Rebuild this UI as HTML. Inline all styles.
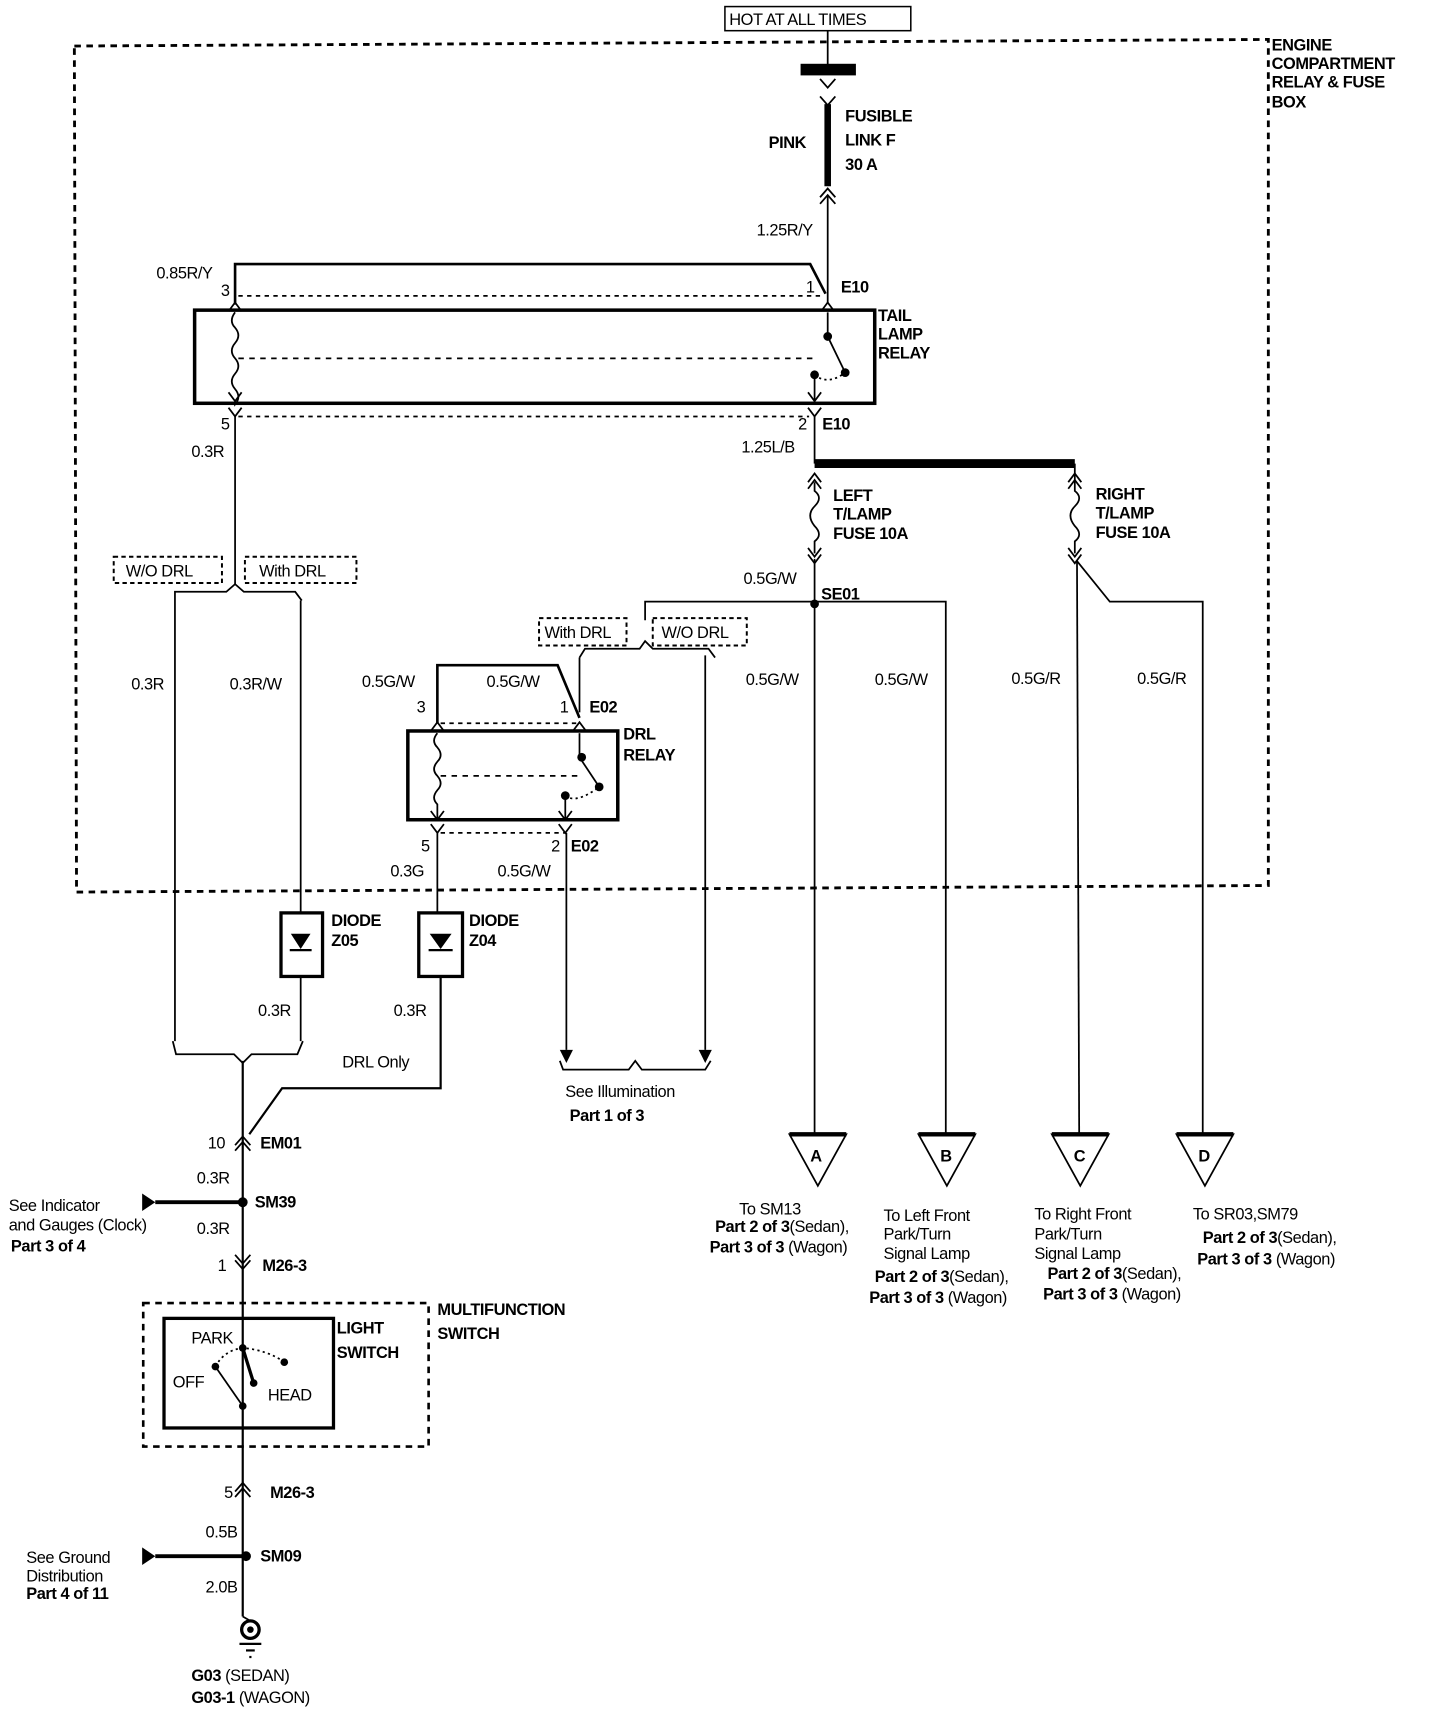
<!DOCTYPE html>
<html><head><meta charset="utf-8"><style>
html,body{margin:0;padding:0;background:#fff;}
svg{display:block}
text{font-family:"Liberation Sans",sans-serif;font-size:15px;fill:#000;letter-spacing:-0.4px}
.b{font-weight:bold}
</style></head><body>
<svg width="1440" height="1714" viewBox="0 0 1317 1564" preserveAspectRatio="none" xmlns="http://www.w3.org/2000/svg">
<g fill="none" stroke="#000" stroke-width="1.6">
<rect x="663" y="6" width="170" height="22" stroke-width="1.4"/>
<path d="M68,42 L1160,36 L1160,808 L70,814 Z" stroke-width="2.6" stroke-dasharray="6,5"/>
<line x1="757" y1="28" x2="757" y2="62"/>
<rect x="733" y="59" width="49" height="9" fill="#000"/>
<path d="M750,72 L757,80 L764,72 M750,88 L757,96 L764,88"/>
<line x1="757" y1="95" x2="757" y2="170" stroke-width="6"/>
<path d="M750,180 L757,172 L764,180 M750,186 L757,178 L764,186"/>
<line x1="757" y1="178" x2="757" y2="276"/>
<path d="M215,278 L215,241 L741,241 L755,268" stroke-width="2.4"/>
<line x1="218" y1="270" x2="750" y2="270" stroke-dasharray="4,4"/>
<path d="M209,284 L215,276 L221,284 M751,284 L757,276 L763,284"/>
<rect x="178" y="283" width="622" height="85" stroke-width="3.2"/>
<path d="M215,285 q-6,8 0,14 q6,7 0,14 q-6,7 0,14 q6,7 0,14 q-6,7 0,14 q6,7 0,14 L215,368"/>
<line x1="218" y1="327" x2="745" y2="327" stroke-dasharray="5,5"/>
<line x1="757" y1="285" x2="757" y2="307"/>
<line x1="757" y1="307" x2="773" y2="340"/>
<path d="M745,342 q12,10 28,-2" stroke-dasharray="2,3"/>
<line x1="745" y1="342" x2="745" y2="368"/>
<path d="M209,358 L215,366 L221,358 M739,358 L745,366 L751,358"/>
<path d="M209,372 L215,380 L221,372 M739,372 L745,380 L751,372"/>
<line x1="218" y1="380" x2="740" y2="380" stroke-dasharray="4,4"/>
<line x1="215" y1="380" x2="215" y2="533"/>
<line x1="745" y1="380" x2="745" y2="423"/>
<line x1="745" y1="423" x2="983" y2="423" stroke-width="8"/>
<path d="M739,440 L745,432 L751,440 M739,446 L745,438 L751,446"/>
<path d="M745,440 L745,448 q8,6 0,14 q-8,8 0,18 q8,8 0,14 L745,505"/>
<path d="M739,500 L745,508 L751,500 M739,506 L745,514 L751,506"/>
<line x1="745" y1="510" x2="745" y2="1035"/>
<path d="M977,440 L983,432 L989,440 M977,446 L983,438 L989,446"/>
<path d="M983,423 L983,448 q8,6 0,14 q-8,8 0,18 q8,8 0,14 L983,505"/>
<path d="M977,500 L983,508 L989,500 M977,506 L983,514 L989,506"/>
<line x1="985" y1="512" x2="987" y2="1035"/>
<path d="M985,512 L1015,549 L1100,549 L1100,1035"/>
<path d="M590,566 L590,549 L865,549 L865,1035"/>
<path d="M722,1035 L774,1035 L748,1082 Z"/><line x1="722" y1="1035" x2="774" y2="1035" stroke-width="4"/>
<path d="M840,1035 L892,1035 L866,1082 Z"/><line x1="840" y1="1035" x2="892" y2="1035" stroke-width="4"/>
<path d="M962,1035 L1014,1035 L988,1082 Z"/><line x1="962" y1="1035" x2="1014" y2="1035" stroke-width="4"/>
<path d="M1076,1035 L1128,1035 L1102,1082 Z"/><line x1="1076" y1="1035" x2="1128" y2="1035" stroke-width="4"/>
<rect x="104" y="508" width="99" height="24" stroke-dasharray="4,3" stroke-width="1.8"/>
<rect x="224" y="508" width="102" height="24" stroke-dasharray="4,3" stroke-width="1.8"/>
<rect x="493" y="564" width="80" height="25" stroke-dasharray="4,3" stroke-width="1.8"/>
<rect x="597" y="564" width="86" height="25" stroke-dasharray="4,3" stroke-width="1.8"/>
<path d="M160,548 L160,540 L207,540 L215,533 L223,540 L270,540 L276,548"/>
<line x1="160" y1="548" x2="160" y2="950"/>
<line x1="275" y1="548" x2="275" y2="833"/>
<path d="M530,600 L535,592 L585,592 L590,585 L597,592 L648,592 L654,600"/>
<line x1="530" y1="600" x2="530" y2="650"/>
<line x1="645" y1="598" x2="645" y2="958"/>
<path d="M400,660 L400,607 L510,607 L530,655" stroke-width="2.4"/>
<line x1="403" y1="660" x2="528" y2="660" stroke-dasharray="4,4"/>
<path d="M394,667 L400,659 L406,667 M524,667 L530,659 L536,667"/>
<rect x="373" y="667" width="192" height="81" stroke-width="3.2"/>
<path d="M400,669 q-6,7 0,13 q6,7 0,13 q-6,7 0,13 q6,7 0,13 q-6,7 0,13 L400,748"/>
<line x1="403" y1="708" x2="530" y2="708" stroke-dasharray="5,5"/>
<line x1="530" y1="669" x2="530" y2="691"/>
<line x1="530" y1="691" x2="548" y2="718"/>
<path d="M517,726 q10,8 31,-8" stroke-dasharray="2,3"/>
<line x1="517" y1="726" x2="517" y2="748"/>
<path d="M394,740 L400,748 L406,740 M511,740 L517,748 L523,740"/>
<path d="M394,752 L400,760 L406,752 M511,752 L517,760 L523,752"/>
<line x1="403" y1="760" x2="518" y2="760" stroke-dasharray="4,4"/>
<line x1="400" y1="760" x2="400" y2="833"/>
<line x1="518" y1="760" x2="518" y2="958"/>
<path d="M512,968 L515,976 L575,976 L581,968 L587,976 L645,976 L650,968"/>
<rect x="257" y="833" width="38" height="58" stroke-width="3"/>
<rect x="383" y="833" width="40" height="58" stroke-width="3"/>
<line x1="275" y1="891" x2="275" y2="950"/>
<path d="M403,891 L403,993 L258,993 L228,1035" stroke-width="2"/>
<path d="M158,950 L161,962 L214,962 L222,970 L230,962 L272,962 L277,950"/>
<line x1="222" y1="968" x2="222" y2="1475" stroke-width="2"/>
<path d="M215,1045 L222,1037 L229,1045 M215,1050 L222,1042 L229,1050"/>
<path d="M215,1145 L222,1153 L229,1145 M215,1150 L222,1158 L229,1150"/>
<path d="M215,1361 L222,1353 L229,1361 M215,1366 L222,1358 L229,1366"/>
<line x1="142" y1="1097" x2="222" y2="1097" stroke-width="3.5"/>
<line x1="142" y1="1420" x2="225" y2="1420" stroke-width="3.5"/>
<rect x="131" y="1189" width="261" height="131" stroke-dasharray="6,5" stroke-width="2.4"/>
<rect x="150" y="1203" width="155" height="100" stroke-width="3"/>
<line x1="222" y1="1230" x2="232" y2="1262" stroke-width="3"/>
<line x1="197" y1="1247" x2="222" y2="1283" stroke-width="1.6"/>
<path d="M197,1247 Q205,1232 222,1230 Q245,1232 260,1243" stroke-dasharray="2,3"/>
<circle cx="229" cy="1487" r="8" stroke-width="3"/>
<line x1="222" y1="1475" x2="229" y2="1479"/>
<line x1="219" y1="1500" x2="239" y2="1500" stroke-width="2"/>
<line x1="225" y1="1506" x2="233" y2="1506" stroke-width="2"/>
<line x1="228" y1="1512" x2="230" y2="1512" stroke-width="2"/>
</g>
<g fill="#000">
<path d="M266,852 L284,852 L275,866 Z"/><line x1="265" y1="867" x2="285" y2="867" stroke="#000" stroke-width="2"/>
<path d="M393,852 L413,852 L403,866 Z"/><line x1="392" y1="867" x2="414" y2="867" stroke="#000" stroke-width="2"/>
<path d="M512,958 L524,958 L518,970 Z"/><path d="M639,958 L651,958 L645,970 Z"/>
<circle cx="745" cy="551" r="4"/>
<circle cx="757" cy="307" r="4"/><circle cx="773" cy="340" r="4"/><circle cx="745" cy="342" r="4"/>
<circle cx="532" cy="691" r="4"/><circle cx="548" cy="718" r="4"/><circle cx="517" cy="726" r="4"/>
<circle cx="222" cy="1230" r="3.5"/><circle cx="232" cy="1262" r="3.5"/><circle cx="260" cy="1243" r="3.5"/><circle cx="197" cy="1247" r="3.5"/><circle cx="222" cy="1283" r="3.5"/>
<circle cx="222" cy="1097" r="4.5"/><circle cx="225" cy="1420" r="4.5"/>
<path d="M130,1089 L142,1097 L130,1105 Z"/><path d="M130,1412 L142,1420 L130,1428 Z"/>
<circle cx="229" cy="1487" r="3"/>
</g>
<text x="667" y="23">HOT AT ALL TIMES</text>
<text class="b" x="1163" y="46">ENGINE</text>
<text class="b" x="1163" y="63">COMPARTMENT</text>
<text class="b" x="1163" y="80">RELAY &amp; FUSE</text>
<text class="b" x="1163" y="98">BOX</text>
<text class="b" x="773" y="111">FUSIBLE</text>
<text class="b" x="773" y="133">LINK F</text>
<text class="b" x="773" y="155">30 A</text>
<text class="b" x="703" y="135">PINK</text>
<text x="692" y="215">1.25R/Y</text>
<text x="143" y="254">0.85R/Y</text>
<text x="202" y="270">3</text>
<text x="737" y="267">1</text>
<text class="b" x="769" y="267">E10</text>
<text class="b" x="803" y="293">TAIL</text>
<text class="b" x="803" y="310">LAMP</text>
<text class="b" x="803" y="327">RELAY</text>
<text x="202" y="392">5</text>
<text x="730" y="392">2</text>
<text class="b" x="752" y="392">E10</text>
<text x="175" y="417">0.3R</text>
<text x="678" y="413">1.25L/B</text>
<text class="b" x="762" y="457">LEFT</text>
<text class="b" x="762" y="474">T/LAMP</text>
<text class="b" x="762" y="492">FUSE 10A</text>
<text class="b" x="1002" y="456">RIGHT</text>
<text class="b" x="1002" y="473">T/LAMP</text>
<text class="b" x="1002" y="491">FUSE 10A</text>
<text x="680" y="533">0.5G/W</text>
<text class="b" x="751" y="547">SE01</text>
<text x="115" y="526">W/O DRL</text>
<text x="237" y="526">With DRL</text>
<text x="498" y="582">With DRL</text>
<text x="605" y="582">W/O DRL</text>
<text x="120" y="629">0.3R</text>
<text x="210" y="629">0.3R/W</text>
<text x="331" y="627">0.5G/W</text>
<text x="445" y="627">0.5G/W</text>
<text x="682" y="625">0.5G/W</text>
<text x="800" y="625">0.5G/W</text>
<text x="925" y="624">0.5G/R</text>
<text x="1040" y="624">0.5G/R</text>
<text x="381" y="650">3</text>
<text x="512" y="650">1</text>
<text class="b" x="539" y="650">E02</text>
<text class="b" x="570" y="675">DRL</text>
<text class="b" x="570" y="694">RELAY</text>
<text x="385" y="777">5</text>
<text x="504" y="777">2</text>
<text class="b" x="522" y="777">E02</text>
<text x="357" y="800">0.3G</text>
<text x="455" y="800">0.5G/W</text>
<text class="b" x="303" y="845">DIODE</text>
<text class="b" x="303" y="863">Z05</text>
<text class="b" x="429" y="845">DIODE</text>
<text class="b" x="429" y="863">Z04</text>
<text x="236" y="927">0.3R</text>
<text x="360" y="927">0.3R</text>
<text x="313" y="974">DRL Only</text>
<text x="517" y="1001">See Illumination</text>
<text class="b" x="521" y="1023">Part 1 of 3</text>
<text x="190" y="1048">10</text>
<text class="b" x="238" y="1048">EM01</text>
<text x="180" y="1080">0.3R</text>
<text class="b" x="233" y="1102">SM39</text>
<text x="8" y="1105">See Indicator</text>
<text x="8" y="1123">and Gauges (Clock)</text>
<text class="b" x="10" y="1142">Part 3 of 4</text>
<text x="180" y="1126">0.3R</text>
<text x="199" y="1160">1</text>
<text class="b" x="240" y="1160">M26-3</text>
<text class="b" x="400" y="1200">MULTIFUNCTION</text>
<text class="b" x="400" y="1222">SWITCH</text>
<text class="b" x="308" y="1217">LIGHT</text>
<text class="b" x="308" y="1239">SWITCH</text>
<text x="175" y="1226">PARK</text>
<text x="158" y="1266">OFF</text>
<text x="245" y="1278">HEAD</text>
<text x="205" y="1367">5</text>
<text class="b" x="247" y="1367">M26-3</text>
<text x="188" y="1403">0.5B</text>
<text class="b" x="238" y="1425">SM09</text>
<text x="24" y="1426">See Ground</text>
<text x="24" y="1443">Distribution</text>
<text class="b" x="24" y="1459">Part 4 of 11</text>
<text x="188" y="1453">2.0B</text>
<text class="b" x="175" y="1534">G03 <tspan font-weight="normal">(SEDAN)</tspan></text>
<text class="b" x="175" y="1554">G03-1 <tspan font-weight="normal">(WAGON)</tspan></text>
<text class="b" x="741" y="1060">A</text>
<text class="b" x="860" y="1060">B</text>
<text class="b" x="982" y="1060">C</text>
<text class="b" x="1096" y="1060">D</text>
<text x="676" y="1108">To SM13</text>
<text class="b" x="654" y="1124">Part 2 of 3<tspan font-weight="normal">(Sedan),</tspan></text>
<text class="b" x="649" y="1143">Part 3 of 3 <tspan font-weight="normal">(Wagon)</tspan></text>
<text x="808" y="1114">To Left Front</text>
<text x="808" y="1131">Park/Turn</text>
<text x="808" y="1149">Signal Lamp</text>
<text class="b" x="800" y="1170">Part 2 of 3<tspan font-weight="normal">(Sedan),</tspan></text>
<text class="b" x="795" y="1189">Part 3 of 3 <tspan font-weight="normal">(Wagon)</tspan></text>
<text x="946" y="1113">To Right Front</text>
<text x="946" y="1131">Park/Turn</text>
<text x="946" y="1149">Signal Lamp</text>
<text class="b" x="958" y="1167">Part 2 of 3<tspan font-weight="normal">(Sedan),</tspan></text>
<text class="b" x="954" y="1186">Part 3 of 3 <tspan font-weight="normal">(Wagon)</tspan></text>
<text x="1091" y="1113">To SR03,SM79</text>
<text class="b" x="1100" y="1134">Part 2 of 3<tspan font-weight="normal">(Sedan),</tspan></text>
<text class="b" x="1095" y="1154">Part 3 of 3 <tspan font-weight="normal">(Wagon)</tspan></text>
</svg>
</body></html>
